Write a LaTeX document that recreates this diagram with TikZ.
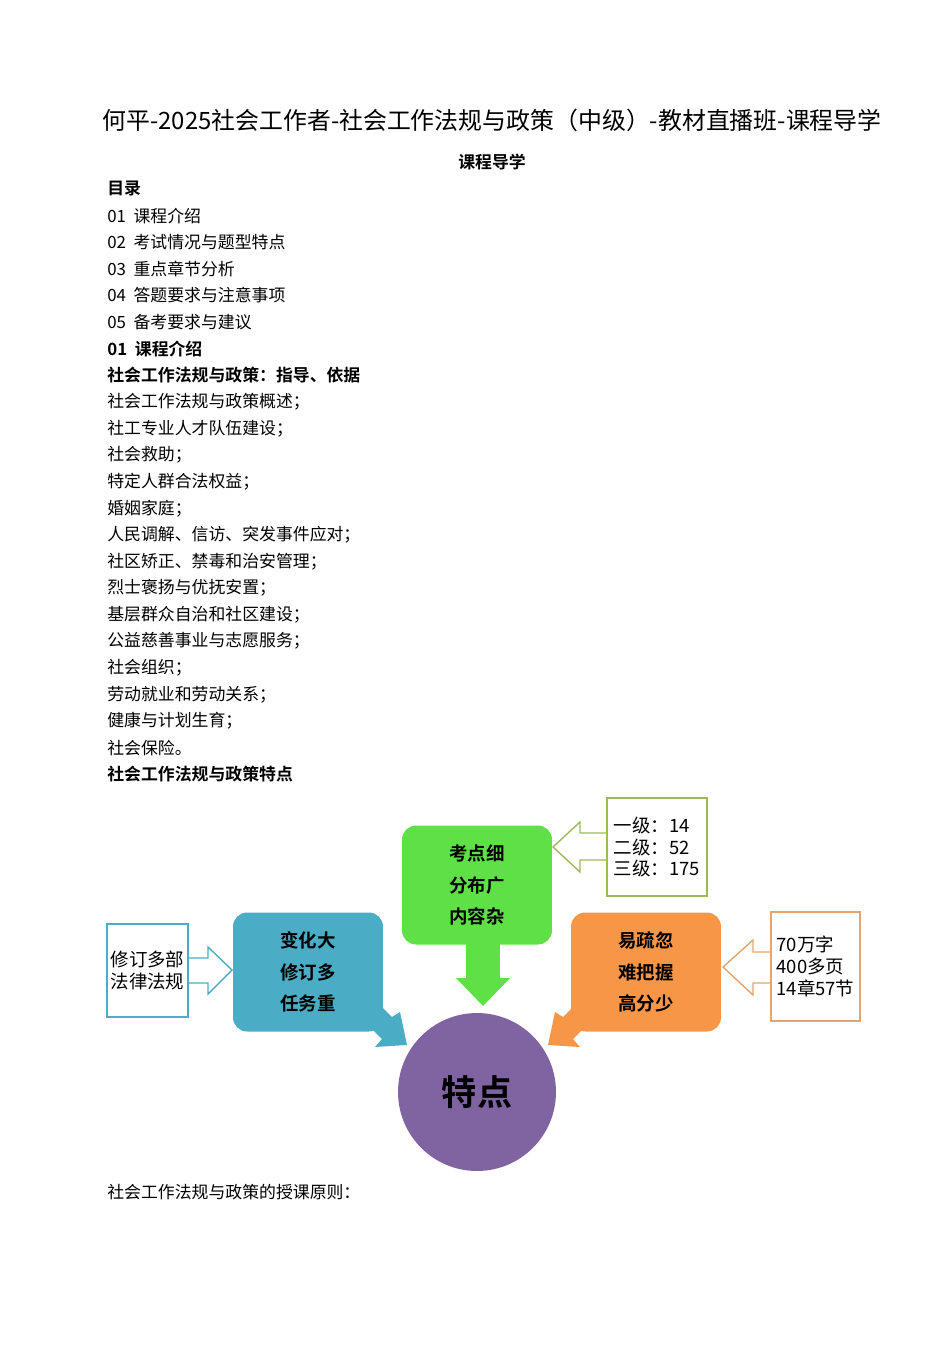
\documentclass[tikz,border=0pt]{standalone}
\usepackage{fontspec}
\setmainfont{Noto Sans CJK SC}[BoldFont={Noto Sans CJK SC Bold}]
\definecolor{tealbox}{HTML}{4BACC6}
\definecolor{greenbox}{HTML}{5FE046}
\definecolor{orangebox}{HTML}{F79646}
\definecolor{purplecirc}{HTML}{8064A2}
\definecolor{olivebox}{HTML}{9BBB59}
\definecolor{tanbox}{HTML}{E3A46F}
\begin{document}
\begin{tikzpicture}[x=0.02cm,y=-0.02cm,
   line/.style={anchor=west,inner sep=0pt,font=\fontsize{9.6pt}{11pt}\selectfont},
   feature/.style={rounded corners=8pt,minimum width=3cm,minimum height=2.38cm,
                   align=center,font=\fontsize{10.5pt}{18pt}\selectfont\bfseries},
   note/.style={draw,thick,fill=white,align=left,inner sep=2pt,
                font=\fontsize{10.5pt}{12.5pt}\selectfont}]
\useasboundingbox (0,0) rectangle (950,1345);

\node[inner sep=0pt,font=\fontsize{13.6pt}{16pt}\selectfont] (title) at (492,120)
   {何平-2025社会工作者-社会工作法规与政策（中级）-教材直播班-课程导学};
\node[inner sep=0pt,font=\fontsize{9.6pt}{11pt}\selectfont\bfseries] (sub) at (492,162) {课程导学};

\foreach \t [count=\i from 0] in {\textbf{目录},01\ \ 课程介绍,02\ \ 考试情况与题型特点,03\ \ 重点章节分析,
   04\ \ 答题要求与注意事项,05\ \ 备考要求与建议,\textbf{01\ \ 课程介绍},\textbf{社会工作法规与政策：指导、依据},
   社会工作法规与政策概述；,社工专业人才队伍建设；,社会救助；,特定人群合法权益；,婚姻家庭；,
   人民调解、信访、突发事件应对；,社区矫正、禁毒和治安管理；,烈士褒扬与优抚安置；,
   基层群众自治和社区建设；,公益慈善事业与志愿服务；,社会组织；,劳动就业和劳动关系；,
   健康与计划生育；,社会保险。,\textbf{社会工作法规与政策特点}}
   \node[line] (l\i) at (107,189+26.6*\i) {\t};
\node[line] (last) at (107,1192) {社会工作法规与政策的授课原则：};

% centre
\node[circle,fill=purplecirc,minimum size=3.16cm,font=\fontsize{20pt}{22pt}\selectfont\bfseries] (core) at (477,1092) {特点};

% coloured boxes with their arrows
\fill[tealbox] (365,990) -- (392,1017) -- (400,1012) -- (407,1045) -- (375,1047) -- (382,1039) -- (355,1012) -- cycle;
\node[feature,fill=tealbox] (change) at (308,972) {变化大\\修订多\\任务重};
\fill[greenbox] (466,940) rectangle (500,978);
\fill[greenbox] (456,978) -- (510,978) -- (483,1006) -- cycle;
\node[feature,fill=greenbox] (point) at (477,885) {考点细\\分布广\\内容杂};
\fill[orangebox] (590,990) -- (563,1017) -- (555,1012) -- (548,1045) -- (580,1047) -- (573,1039) -- (600,1012) -- cycle;
\node[feature,fill=orangebox] (easy) at (646,972) {易疏忽\\难把握\\高分少};

% hollow arrows
\draw[tealbox,thick] (188,958) -- (208,958) -- (208,947) -- (232,970) -- (208,994) -- (208,983) -- (188,983);
\node[note,draw=tealbox,minimum width=1.62cm,minimum height=1.86cm] (law) at (147.5,970.5) {修订多部\\法律法规};
\draw[olivebox,thick] (607,833) -- (580,833) -- (580,822) -- (553,847) -- (580,872) -- (580,860) -- (607,860);
\node[note,draw=olivebox,minimum width=2cm,minimum height=1.96cm] (level) at (657,847) {一级：14\\二级：52\\三级：175};
\draw[tanbox,thick] (771,952) -- (753,952) -- (753,940) -- (723,967) -- (753,995) -- (753,983) -- (771,983);
\node[note,draw=tanbox,minimum width=1.78cm,minimum height=2.18cm] (size) at (815.5,966.5) {70万字\\400多页\\14章57节};
\end{tikzpicture}
\end{document}
